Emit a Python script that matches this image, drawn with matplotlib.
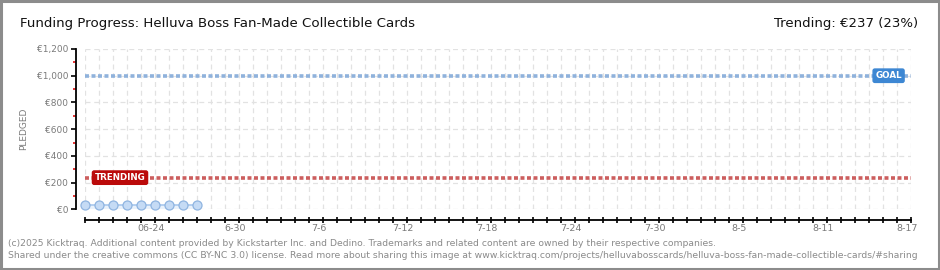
import matplotlib
matplotlib.use("Agg")
import matplotlib.pyplot as plt
from matplotlib.patches import Rectangle
from matplotlib.ticker import FixedLocator, FixedFormatter
import numpy as np

# ---- data ----
title = "Funding Progress: Helluva Boss Fan-Made Collectible Cards"
trend_text = "Trending: €237 (23%)"
days = [0, 1, 2, 3, 4, 5, 6, 7, 8]
pledged = [30, 30, 30, 30, 30, 30, 30, 30, 30]
goal = 1000
trending = 237
n_days = 59
xtick_days = [5, 11, 17, 23, 29, 35, 41, 47, 53, 59]
xtick_labels = ["06-24", "6-30", "7-6", "7-12", "7-18", "7-24", "7-30", "8-5", "8-11", "8-17"]
ytick_vals = [0, 200, 400, 600, 800, 1000, 1200]
ytick_labels = ["€0", "€200", "€400", "€600", "€800", "€1,000", "€1,200"]
footer1 = ("(c)2025 Kicktraq. Additional content provided by Kickstarter Inc. and Dedino. "
           "Trademarks and related content are owned by their respective companies.")
footer2 = ("Shared under the creative commons (CC BY-NC 3.0) license. Read more about sharing this image at "
           "www.kicktraq.com/projects/helluvabosscards/helluva-boss-fan-made-collectible-cards/#sharing")

W, H = 940, 270
fig = plt.figure(figsize=(W / 100, H / 100), dpi=100)
fig.patch.set_facecolor("white")

ax = fig.add_axes([85 / W, 1 - 209.3 / H, 826 / W, 160.3 / H])
ax.set_xlim(0, n_days)
ax.set_ylim(0, 1200)

# grid
ax.set_xticks(np.arange(0, n_days + 1, 1))
ax.xaxis.set_major_formatter(FixedFormatter([""] * (n_days + 1)))
ax.grid(axis="x", color="#e2e2e2", linestyle=(0, (4, 3)), linewidth=0.9)
ax.set_yticks(ytick_vals)
ax.set_yticklabels(ytick_labels)
ax.grid(axis="y", color="#e2e2e2", linestyle=(0, (4, 3)), linewidth=0.9)
ax.yaxis.set_minor_locator(FixedLocator([100, 300, 500, 700, 900, 1100]))
ax.set_axisbelow(True)

for s in ["top", "right"]:
    ax.spines[s].set_visible(False)
ax.spines["left"].set_position(("outward", 6.5))
ax.spines["left"].set_bounds(0, 1200)
ax.spines["bottom"].set_position(("outward", 7.7))
ax.spines["bottom"].set_bounds(0, n_days)
ax.spines["left"].set_linewidth(1.3)
ax.spines["bottom"].set_linewidth(1.3)

ax.tick_params(axis="y", which="major", direction="out", length=3.5, width=1.2, color="black",
               labelsize=6.5, labelcolor="#7a7a7a", pad=2)
ax.tick_params(axis="y", which="minor", direction="out", length=2.5, width=1.2, color="#e01010")
ax.tick_params(axis="x", which="major", direction="inout", length=4.5, width=1.2, color="black")

# x labels (text)
for d, lab in zip(xtick_days, xtick_labels):
    ax.annotate(lab, xy=(d, 0), xycoords=("data", "axes fraction"), xytext=(-3, -13.7),
                textcoords="offset points", ha="center", va="center", fontsize=6.8, color="#7a7a7a")

ax.set_ylabel("PLEDGED", fontsize=6.5, color="#7a7a7a", labelpad=6)

# goal and trending lines
ax.plot([0, n_days], [goal, goal], color="#8fb2dc", lw=2.6, linestyle=(0, (1.1, 0.7)), zorder=2,
        dash_capstyle="butt")
ax.plot([0, n_days], [trending, trending], color="#cc5e5e", lw=2.6, linestyle=(0, (1.1, 0.7)), zorder=2,
        dash_capstyle="butt")

ax.text(57.4, goal, "GOAL", ha="center", va="center", fontsize=6.3, color="white", fontweight="bold",
        zorder=5, bbox=dict(boxstyle="round,pad=0.25,rounding_size=0.2", fc="#3d87d3", ec="#3d87d3"))
ax.text(2.5, trending, "TRENDING", ha="center", va="center", fontsize=6.3, color="white", fontweight="bold",
        zorder=5, bbox=dict(boxstyle="round,pad=0.25,rounding_size=0.2", fc="#bb0a0a", ec="#bb0a0a"))

# pledged series
ax.fill_between(days, 0, pledged, color="#eaf2fb", zorder=3, clip_on=False, lw=0)
ax.plot(days, pledged, color="#a9c8ee", lw=1.2, zorder=4, clip_on=False)
ax.plot(days, pledged, "o", ms=6.5, mfc="#c5dbf5", mec="#8fb4e0", mew=0.9, zorder=5, clip_on=False)

# titles
fig.text(20 / W, 1 - 23 / H, title, ha="left", va="center", fontsize=9.6, color="#111111")
fig.text(918 / W, 1 - 23 / H, trend_text, ha="right", va="center", fontsize=9.5, color="#111111")

# footer
fig.text(8 / W, 1 - 243 / H, footer1, ha="left", va="center", fontsize=6.7, color="#8a8a8a")
fig.text(8 / W, 1 - 256 / H, footer2, ha="left", va="center", fontsize=6.7, color="#8a8a8a")

# border
fig.patches.append(Rectangle((0.001, 0.002), 0.998, 0.996, transform=fig.transFigure, fill=False,
                             ec="#8c8c8c", lw=2.2))

fig.savefig("out.png", dpi=100, facecolor="white")
